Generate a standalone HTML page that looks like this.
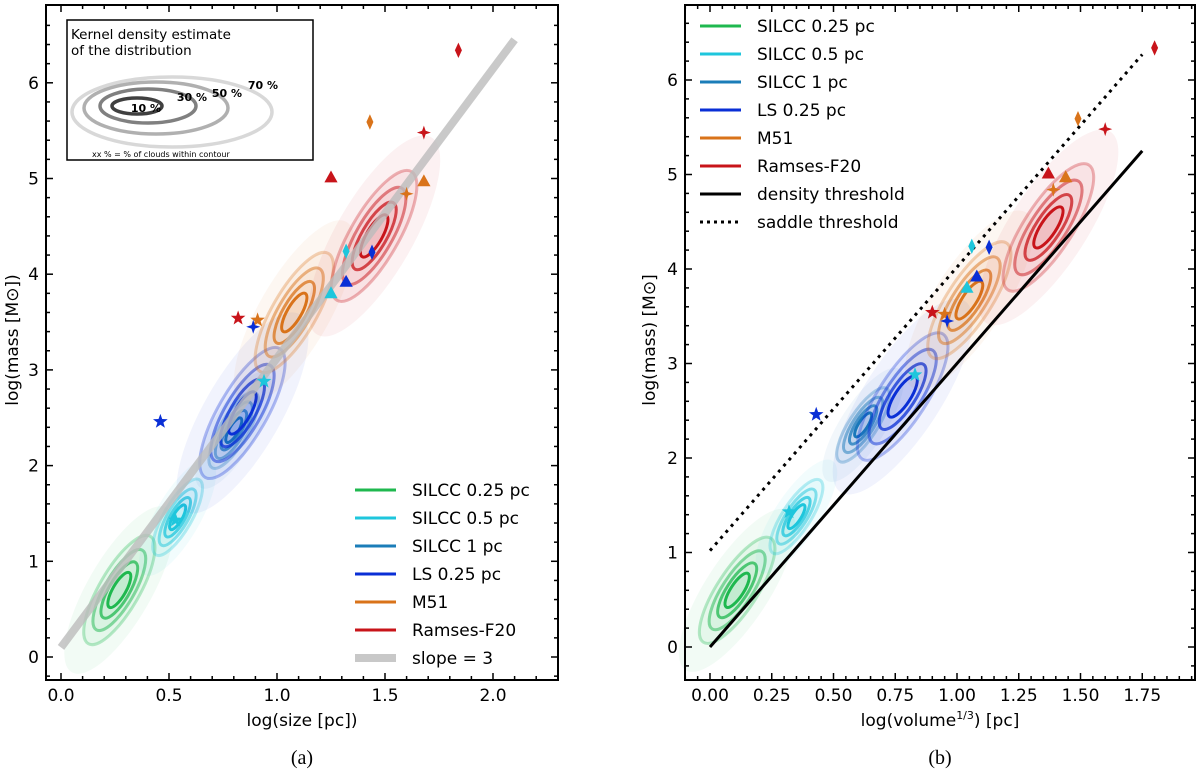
<!DOCTYPE html>
<html><head><meta charset="utf-8"><style>
html,body{margin:0;padding:0;background:#fff;}
svg{display:block;font-family:"DejaVu Sans","Liberation Sans",sans-serif;}
</style></head><body>
<svg id="fig" width="1200" height="769" viewBox="0 0 1200 769" xmlns="http://www.w3.org/2000/svg"></svg>
<script>
// ---- data ----
const datasetNames = ["SILCC 0.25 pc","SILCC 0.5 pc","SILCC 1 pc","LS 0.25 pc","M51","Ramses-F20"];
const datasetColors = ["#1fb84f","#1ec6dc","#1b7db8","#0a2fd6","#d9731a","#c8141a"];
const centerSizeA = [0.27,0.54,0.80,0.84,1.08,1.45];
const centerMassA = [0.70,1.46,2.37,2.55,3.60,4.40];
const centerSizeB = [0.11,0.35,0.62,0.78,1.05,1.37];
const centerMassB = [0.60,1.38,2.35,2.65,3.67,4.44];
const spreadScale = [1.0,0.7,0.7,1.2,1.1,1.2];
const markerShape = ["diamond","diamond","star4","star4","triangle","triangle","diamond","diamond","triangle","triangle","star5","star5","star4","star5","star5","star5"];
const markerSet   = [5,4,5,4,5,4,1,3,1,3,5,4,3,1,3,1];
const markerSizeA = [1.84,1.43,1.68,1.60,1.25,1.68,1.32,1.44,1.25,1.32,0.82,0.91,0.89,0.94,0.46,0.53];
const markerSizeB = [1.80,1.49,1.60,1.39,1.37,1.44,1.06,1.13,1.04,1.08,0.90,0.95,0.96,0.83,0.43,0.32];
const markerMass  = [6.34,5.59,5.48,4.84,5.01,4.97,4.24,4.23,3.80,3.92,3.54,3.52,3.45,2.88,2.46,1.43];
const xTicksA = [0.0,0.5,1.0,1.5,2.0];
const xTicksB = [0.00,0.25,0.50,0.75,1.00,1.25,1.50,1.75];
const yTicks = [0,1,2,3,4,5,6];

const NS="http://www.w3.org/2000/svg";
const svg=document.getElementById('fig');
function el(tag,attrs,parent){const e=document.createElementNS(NS,tag);for(const k in attrs)e.setAttribute(k,attrs[k]);(parent||svg).appendChild(e);return e;}

const panels=[
 {id:'a',L:46,R:558,T:5,B:680,x0:61,xu:216,y0:657,yu:95.7,xmin:-0.07,xmax:2.30,xt:xTicksA,xminor:0.1,xdec:1,cs:centerSizeA,cm:centerMassA,ms:markerSizeA,rot:-60},
 {id:'b',L:685,R:1195,T:5,B:680,x0:710,xu:247,y0:647,yu:94.5,xmin:-0.10,xmax:1.96,xt:xTicksB,xminor:0.05,xdec:2,cs:centerSizeB,cm:centerMassB,ms:markerSizeB,rot:-57}
];

function markerPath(shape,cx,cy,s){
  let pts=[];
  if(shape==='diamond'){pts=[[0,-s*1.1],[s*0.5,0],[0,s*1.1],[-s*0.5,0]];}
  else if(shape==='triangle'){pts=[[0,-s],[s*0.95,s*0.7],[-s*0.95,s*0.7]];}
  else if(shape==='star5'){for(let i=0;i<10;i++){const r=i%2?s*0.45:s*1.1;const a=-Math.PI/2+i*Math.PI/5;pts.push([r*Math.cos(a),r*Math.sin(a)]);}}
  else {for(let i=0;i<8;i++){const r=i%2?s*0.35:s*1.0;const a=-Math.PI/2+i*Math.PI/4;pts.push([r*Math.cos(a),r*Math.sin(a)]);}}
  return 'M'+pts.map(p=>(cx+p[0]).toFixed(1)+','+(cy+p[1]).toFixed(1)).join('L')+'Z';
}

panels.forEach((P,pi)=>{
  const X=v=>P.x0+v*P.xu, Y=v=>P.y0-v*P.yu;
  const g=el('g',{});
  
  
  datasetNames.forEach((n,i)=>{
    const cx=X(P.cs[i]), cy=Y(P.cm[i]), sc=spreadScale[i];
    const hz=el('ellipse',{cx:cx,cy:cy,rx:95*sc,ry:32*sc,fill:datasetColors[i],'fill-opacity':0.06,transform:`rotate(${P.rot} ${cx} ${cy})`},g);
    
    
    const levels=[[3.1,0.3],[2.3,0.5],[1.6,0.75],[1.0,1]];
    levels.forEach((lv,k)=>{
      const c=el('ellipse',{cx:cx,cy:cy,rx:20*lv[0]*sc,ry:6.5*lv[0]*sc,fill:datasetColors[i],'fill-opacity':0.06,stroke:datasetColors[i],'stroke-opacity':lv[1],'stroke-width':3,transform:`rotate(${P.rot} ${cx} ${cy})`},g);
      
      
    });
  });
  if(pi===0){
    const l=el('line',{x1:X(0),y1:Y(0.1),x2:X(2.1),y2:Y(6.45),stroke:'#bbb','stroke-opacity':0.8,'stroke-width':8},g);
    
    
  } else {
    const l=el('line',{x1:X(0),y1:Y(0),x2:X(1.75),y2:Y(5.25),stroke:'#000','stroke-width':3},g);
    
    
    const d=el('line',{x1:X(0),y1:Y(1.02),x2:X(1.75),y2:Y(6.27),stroke:'#000','stroke-width':3,'stroke-dasharray':'3 5'},g);
    
    
  }
  markerMass.forEach((m,i)=>{
    const p=el('path',{d:markerPath(markerShape[i],X(P.ms[i]),Y(m),7),fill:datasetColors[markerSet[i]]},g);
    
    
  });
  const fr=el('rect',{x:P.L,y:P.T,width:P.R-P.L,height:P.B-P.T,fill:'none',stroke:'#000','stroke-width':2},g);
  
  
  for(let v=Math.ceil(P.xmin/P.xminor)*P.xminor;v<=P.xmax+1e-9;v+=P.xminor){
    const px=X(v); const major=P.xt.some(t=>Math.abs(t-v)<1e-6);
    const len=major?7:4;
    el('line',{x1:px,y1:P.B,x2:px,y2:P.B-len,stroke:'#000','stroke-width':1.5},g);
    el('line',{x1:px,y1:P.T,x2:px,y2:P.T+len,stroke:'#000','stroke-width':1.5},g);
  }
  P.xt.forEach(t=>{
    const tx=el('text',{x:X(t),y:701,'font-size':17,'text-anchor':'middle'},g);
    tx.textContent=t.toFixed(P.xdec);
    
    
  });
  for(let v=-0.2;v<=6.8;v+=0.2){
    const py=Y(v); if(py<P.T||py>P.B) continue;
    const major=Math.abs(v-Math.round(v))<1e-6; const len=major?7:4;
    el('line',{x1:P.L,y1:py,x2:P.L+len,y2:py,stroke:'#000','stroke-width':1.5},g);
    el('line',{x1:P.R,y1:py,x2:P.R-len,y2:py,stroke:'#000','stroke-width':1.5},g);
  }
  yTicks.forEach(t=>{
    const tx=el('text',{x:P.L-7,y:Y(t)+6,'font-size':17,'text-anchor':'end'},g);
    tx.textContent=String(t);
    
    
  });
  const xt=el('text',{x:(P.L+P.R)/2,y:726,'font-size':17,'text-anchor':'middle'},g);
  if(pi===0){xt.textContent='log(size [pc])';}
  else{xt.innerHTML='log(volume<tspan font-size="11" dy="-7">1/3</tspan><tspan dy="7">) [pc]</tspan>';}
  
  
  const yx=pi===0?18:655, yy=340;
  const yt=el('text',{x:yx,y:yy,'font-size':17,'text-anchor':'middle',transform:`rotate(-90 ${yx} ${yy})`},g);
  yt.textContent=pi===0?'log(mass [M\u2299])':'log(mass) [M\u2299]';
  
  
  const cap=el('text',{x:(P.L+P.R)/2,y:764,'font-size':20,'text-anchor':'middle','font-family':'Liberation Serif, serif'},g);
  cap.textContent='('+P.id+')';
  
  
  const lg=el('g',{},g);
  
  
  const entries=datasetNames.map((n,i)=>({n:n,c:datasetColors[i],w:3,d:''}));
  if(pi===0) entries.push({n:'slope = 3',c:'#c8c8c8',w:8,d:''});
  else {entries.push({n:'density threshold',c:'#000',w:3,d:''});entries.push({n:'saddle threshold',c:'#000',w:3,d:'3 4'});}
  const lx=pi===0?355:700, ly=pi===0?490:26;
  entries.forEach((e,k)=>{
    const y=ly+k*28;
    const ln=el('line',{x1:lx,y1:y,x2:lx+41,y2:y,stroke:e.c,'stroke-width':e.w},lg);
    if(e.d) ln.setAttribute('stroke-dasharray',e.d);
    
    
    const t=el('text',{x:lx+57,y:y+6,'font-size':17},lg);
    t.textContent=e.n;
    
    
  });
});

const ins=el('g',{});


el('rect',{x:67,y:20,width:246,height:140,fill:'#fff',stroke:'#000','stroke-width':1.5},ins);
const t1=el('text',{x:71,y:39,'font-size':13.5},ins);t1.textContent='Kernel density estimate';


const t2=el('text',{x:71,y:55,'font-size':13.5},ins);t2.textContent='of the distribution';


const insetRings=[[172,112,100,35,'#d8d8d8'],[156,108,72,26,'#b0b0b0'],[148,106,48,17,'#808080'],[137,106,25,8,'#404040']];
insetRings.forEach(r=>{el('ellipse',{cx:r[0],cy:r[1],rx:r[2],ry:r[3],fill:'none',stroke:r[4],'stroke-width':3.5},ins);});
[['10 %',146,112],['30 %',192,101],['50 %',227,97],['70 %',263,89]].forEach(a=>{
  const t=el('text',{x:a[1],y:a[2],'font-size':11,'font-weight':'bold','text-anchor':'middle'},ins);t.textContent=a[0];
  
  
});
const t3=el('text',{x:92,y:157,'font-size':8},ins);t3.textContent='xx % = % of clouds within contour';


</script>
</body></html>
